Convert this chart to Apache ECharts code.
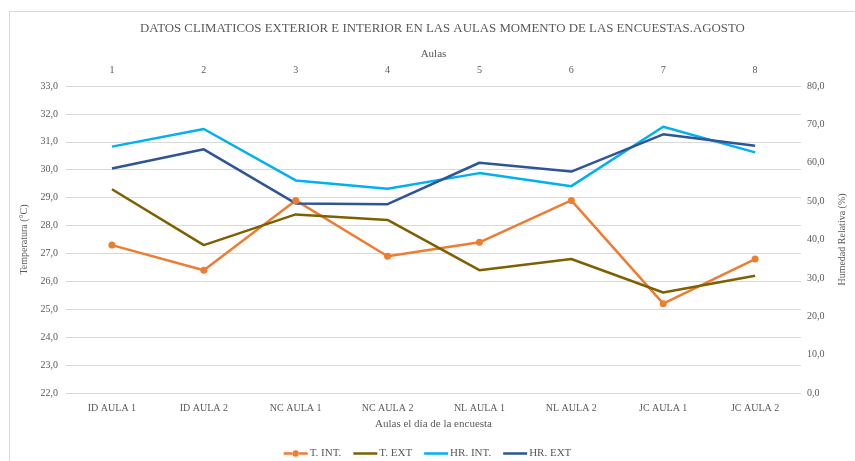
<!DOCTYPE html>
<html>
<head>
<meta charset="utf-8">
<script src="https://cdn.jsdelivr.net/npm/echarts@6/dist/echarts.min.js"></script>
<style>html,body{margin:0;padding:0;background:#fff;}#c{width:855px;height:461px;}</style>
</head>
<body>
<div id="c"></div>
<script>
const categories = ['ID AULA 1','ID AULA 2','NC AULA 1','NC AULA 2','NL AULA 1','NL AULA 2','JC AULA 1','JC AULA 2'];
const topLabels = ['1','2','3','4','5','6','7','8'];
const tInt = [27.3, 26.4, 28.9, 26.9, 27.4, 28.9, 25.2, 26.8];
const tExt = [29.3, 27.3, 28.4, 28.2, 26.4, 26.8, 25.6, 26.2];
const hrInt = [64.2, 68.8, 55.4, 53.2, 57.3, 53.9, 69.4, 62.7];
const hrExt = [58.5, 63.5, 49.4, 49.2, 60.0, 57.7, 67.4, 64.4];

const FONT = '"Liberation Serif", "DejaVu Serif", serif';
const TXT = '#595959';
const fmt = v => v.toFixed(1).replace('.', ',');
const LINE_ICON = 'path://M0,0 L0.01,0 L0.01,0.01 Z M0,3 L30,3 L30,6 L0,6 Z M0,9 L0.01,9 L0.01,9.01 Z';
const MARK_ICON = 'path://M0,0 L0.01,0 L0.01,0.01 Z M0,3 L11.5,3 L11.5,6 L0,6 Z M18.5,3 L30,3 L30,6 L18.5,6 Z M11,4.5 A4,4 0 1,0 19,4.5 A4,4 0 1,0 11,4.5 Z M0,9 L0.01,9 L0.01,9.01 Z';

const chart = echarts.init(document.getElementById('c'), null, {renderer: 'canvas'});
chart.setOption({
  animation: false,
  backgroundColor: '#fff',
  textStyle: {fontFamily: FONT},
  graphic: [{
    type: 'rect', left: 7, top: 9, silent: true,
    shape: {width: 900, height: 500},
    style: {fill: 'none', stroke: '#D9D9D9', lineWidth: 1}
  }],
  title: {
    text: 'DATOS CLIMATICOS EXTERIOR E INTERIOR EN LAS AULAS MOMENTO DE LAS ENCUESTAS.AGOSTO',
    left: 135, top: 17,
    textStyle: {fontFamily: FONT, fontSize: 12.85, fontWeight: 'normal', color: TXT}
  },
  legend: {
    top: 443, left: 'center', itemGap: 12, itemWidth: 24, itemHeight: 9,
    textStyle: {fontFamily: FONT, fontSize: 11, color: TXT, padding: [0, 0, 0, -3]},
    data: [
      {name: 'T. INT.', icon: MARK_ICON},
      {name: 'T. EXT', icon: LINE_ICON},
      {name: 'HR. INT.', icon: LINE_ICON},
      {name: 'HR. EXT', icon: LINE_ICON}
    ]
  },
  grid: {left: 66, right: 43, top: 86, bottom: 68},
  xAxis: [
    {
      type: 'category', data: categories, position: 'bottom',
      name: 'Aulas el día de la encuesta', nameLocation: 'middle', nameGap: 26,
      nameTextStyle: {fontFamily: FONT, fontSize: 11, color: TXT},
      axisLine: {show: false}, axisTick: {show: false},
      axisLabel: {fontFamily: FONT, fontSize: 10, color: TXT, margin: 10}
    },
    {
      type: 'category', data: topLabels, position: 'top',
      name: 'Aulas', nameLocation: 'middle', nameGap: 22,
      nameTextStyle: {fontFamily: FONT, fontSize: 11, color: TXT},
      axisLine: {show: false}, axisTick: {show: false},
      axisLabel: {fontFamily: FONT, fontSize: 10, color: TXT, margin: 11}
    }
  ],
  yAxis: [
    {
      type: 'value', min: 22, max: 33, interval: 1, position: 'left',
      name: 'Temperatura (°C)', nameLocation: 'middle', nameGap: 31,
      nameTextStyle: {fontFamily: FONT, fontSize: 10, color: TXT},
      axisLine: {show: false}, axisTick: {show: false},
      axisLabel: {fontFamily: FONT, fontSize: 10, color: TXT, margin: 8, formatter: fmt},
      splitLine: {lineStyle: {color: '#D9D9D9', width: 1}}
    },
    {
      type: 'value', min: 0, max: 80, interval: 10, position: 'right',
      name: 'Humedad Relativa (%)', nameLocation: 'middle', nameGap: 36,
      nameTextStyle: {fontFamily: FONT, fontSize: 10, color: TXT},
      axisLine: {show: false}, axisTick: {show: false},
      axisLabel: {fontFamily: FONT, fontSize: 10, color: TXT, margin: 6, formatter: fmt},
      splitLine: {show: false}
    }
  ],
  series: [
    {name: 'T. INT.', type: 'line', data: tInt, yAxisIndex: 0, xAxisIndex: 0,
     symbol: 'circle', symbolSize: 7, color: '#ED7D31', lineStyle: {width: 2.5, color: '#ED7D31'}},
    {name: 'T. EXT', type: 'line', data: tExt, yAxisIndex: 0, xAxisIndex: 0,
     symbol: 'none', color: '#7F6000', lineStyle: {width: 2.5, color: '#7F6000'}},
    {name: 'HR. INT.', type: 'line', data: hrInt, yAxisIndex: 1, xAxisIndex: 0,
     symbol: 'none', color: '#00B0F0', lineStyle: {width: 2.5, color: '#00B0F0'}},
    {name: 'HR. EXT', type: 'line', data: hrExt, yAxisIndex: 1, xAxisIndex: 0,
     symbol: 'none', color: '#2F5597', lineStyle: {width: 2.5, color: '#2F5597'}}
  ]
});
</script>
</body>
</html>
